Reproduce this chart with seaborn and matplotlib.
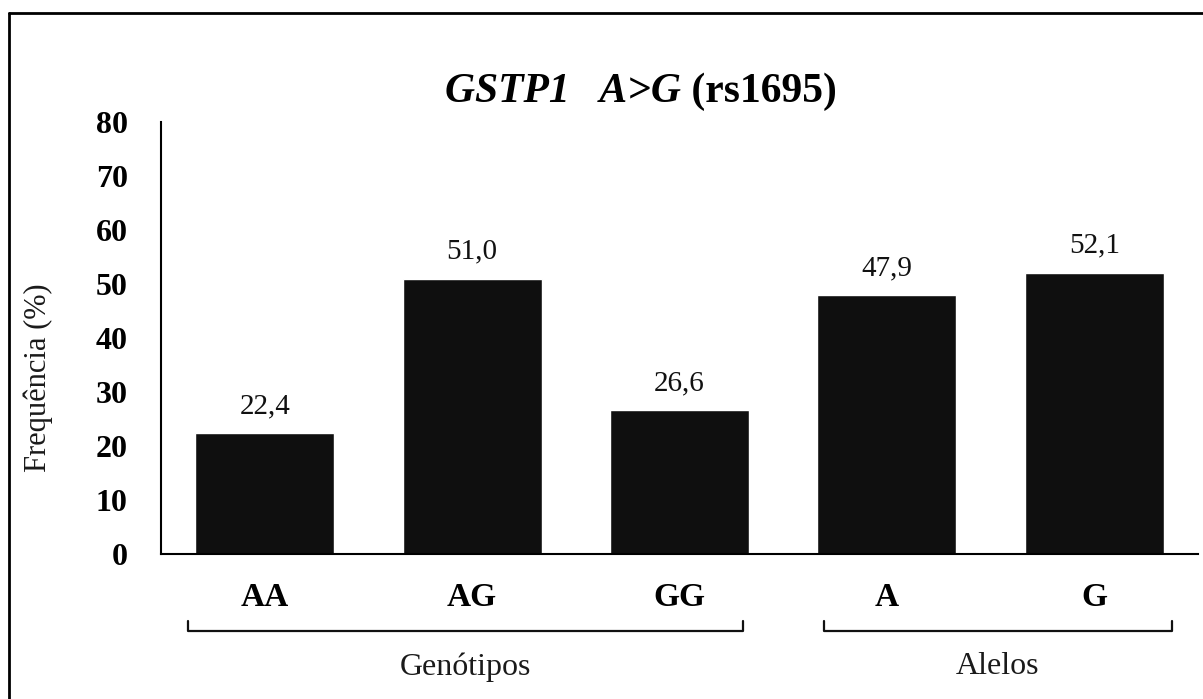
import matplotlib
matplotlib.use("Agg")
import matplotlib.pyplot as plt
import seaborn as sns
import pandas as pd
from matplotlib.lines import Line2D

# Data
categories = ["AA", "AG", "GG", "A", "G"]
frequencies = [22.4, 51.0, 26.6, 47.9, 52.1]
y_ticks = [0, 10, 20, 30, 40, 50, 60, 70, 80]
group_names = ["Genótipos", "Alelos"]
ylabel = "Frequência (%)"

sns.set_theme(style="white")
plt.rcParams["font.family"] = ["Liberation Serif", "DejaVu Serif"]
plt.rcParams["text.color"] = "black"

W, H = 1203, 699
fig = plt.figure(figsize=(W / 100, H / 100), dpi=100)
ax = fig.add_axes([161 / W, (H - 554) / H, 1037 / W, 432 / H])

df = pd.DataFrame({"cat": categories, "freq": frequencies})
sns.barplot(data=df, x="cat", y="freq", color="#0f0f0f", saturation=1,
            width=0.67, ax=ax)

ax.set_xlim(-0.5, 4.5)
ax.set_ylim(0, 80)
ax.set_yticks(y_ticks)
ax.set_yticklabels([str(t) for t in y_ticks], fontsize=23, fontweight="bold")
ax.set_xticks(range(len(categories)))
ax.set_xticklabels(categories, fontsize=24, fontweight="bold")
ax.tick_params(axis="both", length=0, colors="black")
ax.tick_params(axis="y", pad=24)
ax.tick_params(axis="x", pad=20)
ax.set_xlabel("")
ax.set_ylabel("")

for s in ["top", "right"]:
    ax.spines[s].set_visible(False)
for s in ["left", "bottom"]:
    ax.spines[s].set_color("black")
    ax.spines[s].set_linewidth(1.5)

labels = [f"{v:.1f}".replace(".", ",") for v in frequencies]
ax.bar_label(ax.containers[0], labels=labels, padding=10, fontsize=21,
             color="#111111")

# Y label
fig.text(38 / W, 1 - 378 / H, ylabel, rotation=90, ha="center", va="center",
         fontsize=22, color="#1a1a1a")

# Brackets (layout in data x, pixel y)
brackets = [(-0.37, 2.305), (2.695, 4.373)]
tr = ax.get_xaxis_transform()
y_top = (554 - 621) / 432
y_bot = (554 - 631) / 432
for (x0, x1), name in zip(brackets, group_names):
    ax.add_line(Line2D([x0, x0, x1, x1], [y_top, y_bot, y_bot, y_top],
                       transform=tr, color="#111111", lw=1.6, clip_on=False))
    ax.text((x0 + x1) / 2, (554 - 667) / 432, name, transform=tr,
            ha="center", va="center", fontsize=23, color="#1a1a1a")

# Title
t1 = fig.text(445 / W, 1 - 102 / H, "GSTP1   A>G", fontsize=30,
              fontweight="bold", fontstyle="italic", ha="left",
              va="baseline")
fig.canvas.draw()
ax.annotate(" (rs1695)", xy=(1, 0), xycoords=t1, xytext=(0, 0),
            textcoords="offset points", fontsize=30, fontweight="bold",
            ha="left", va="bottom")

# Figure border (top and left visible)
fig.add_artist(Line2D([9 / W, 9 / W], [0, 1 - 13 / H], transform=fig.transFigure,
                      color="black", lw=2))
fig.add_artist(Line2D([9 / W, 1], [1 - 13 / H, 1 - 13 / H], transform=fig.transFigure,
                      color="black", lw=2))

fig.savefig("out.png", dpi=100)
